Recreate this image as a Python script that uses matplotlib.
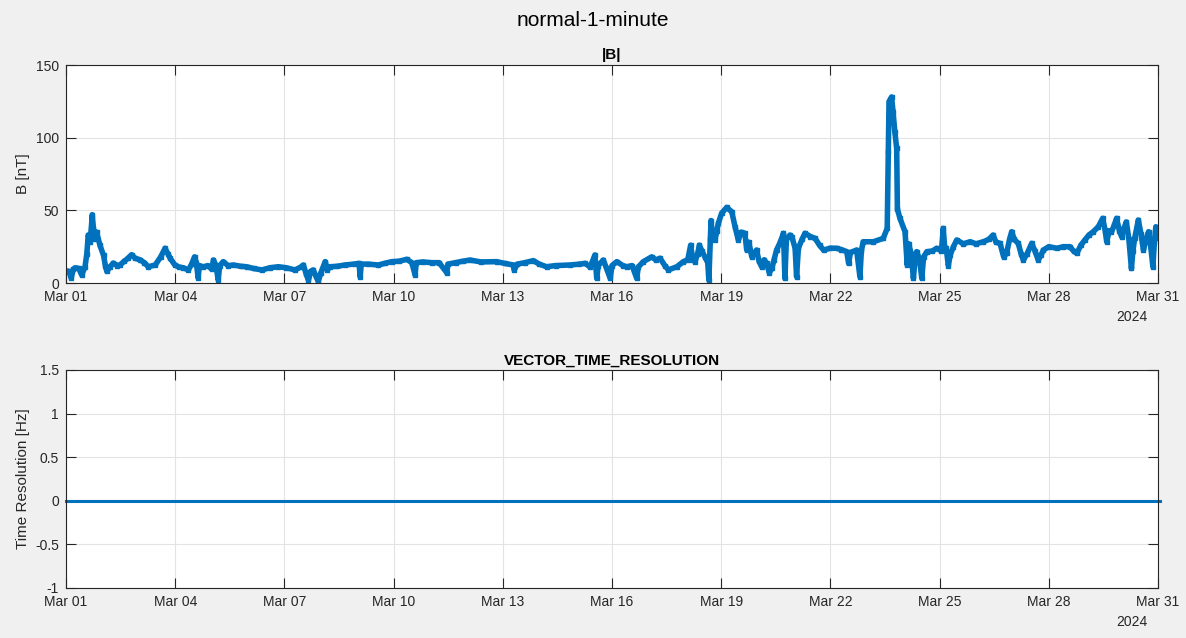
import matplotlib
matplotlib.use("Agg")
import matplotlib.pyplot as plt
import matplotlib.dates as mdates
import pandas as pd
from matplotlib.ticker import FuncFormatter

plt.rcParams["font.family"] = ["Liberation Sans", "DejaVu Sans"]

START = pd.Timestamp("2024-03-01")
END = pd.Timestamp("2024-03-31")

# |B|: days since Mar 01 00:00 -> nT
b_day = [0.00, 0.08, 0.14, 0.20, 0.25, 0.35, 0.43, 0.52, 0.57, 0.61, 0.66, 0.70, 0.72, 0.75,
         0.79, 0.84, 0.93, 1.03, 1.08, 1.12, 1.20, 1.30, 1.40, 1.48, 1.60, 1.70, 1.80, 1.90,
         2.03, 2.15, 2.26, 2.45, 2.60, 2.72, 2.80, 2.86, 2.99, 3.10, 3.22, 3.36, 3.45, 3.53,
         3.58, 3.63, 3.66, 3.77, 3.90, 4.00, 4.05, 4.12, 4.18, 4.22, 4.32, 4.45, 4.60, 4.80,
         4.96, 5.15, 5.38, 5.60, 5.83, 6.05, 6.29, 6.45, 6.52, 6.60, 6.66, 6.72, 6.79, 6.86,
         6.93, 7.00, 7.12, 7.18, 7.25, 7.45, 7.66, 7.90, 8.05, 8.08, 8.11, 8.30, 8.58, 8.75,
         8.95, 9.15, 9.36, 9.50, 9.59, 9.62, 9.80, 10.05, 10.25, 10.46, 10.49, 10.70, 10.90,
         11.10, 11.40, 11.83, 12.05, 12.29, 12.31, 12.40, 12.60, 12.84, 13.00, 13.20, 13.45,
         13.85, 14.10, 14.26, 14.40, 14.53, 14.58, 14.62, 14.76, 14.85, 14.95, 15.00, 15.13,
         15.30, 15.40, 15.55, 15.68, 15.72, 15.86, 16.09, 16.20, 16.32, 16.45, 16.55, 16.78,
         16.96, 17.08, 17.16, 17.22, 17.28, 17.35, 17.40, 17.47, 17.55, 17.63, 17.66, 17.70,
         17.72, 17.77, 17.83, 17.88, 17.92, 18.01, 18.15, 18.29, 18.38, 18.47, 18.55, 18.65,
         18.70, 18.76, 18.84, 18.97, 19.04, 19.11, 19.18, 19.25, 19.32, 19.39, 19.45, 19.52,
         19.62, 19.71, 19.75, 19.79, 19.89, 19.94, 20.03, 20.07, 20.12, 20.22, 20.30, 20.45,
         20.58, 20.70, 20.81, 21.00, 21.17, 21.30, 21.45, 21.50, 21.55, 21.72, 21.81, 21.85,
         21.90, 22.18, 22.45, 22.56, 22.59, 22.61, 22.68, 22.72, 22.77, 22.82, 22.84, 22.91,
         23.05, 23.11, 23.15, 23.22, 23.28, 23.33, 23.37, 23.45, 23.51, 23.56, 23.65, 23.80,
         23.92, 24.05, 24.10, 24.14, 24.18, 24.24, 24.29, 24.38, 24.47, 24.65, 24.84, 25.00,
         25.20, 25.35, 25.47, 25.55, 25.66, 25.76, 25.84, 25.92, 25.98, 26.05, 26.16, 26.24,
         26.30, 26.40, 26.53, 26.62, 26.71, 26.78, 26.85, 27.00, 27.22, 27.40, 27.58, 27.68,
         27.77, 27.88, 27.99, 28.10, 28.22, 28.36, 28.48, 28.55, 28.59, 28.66, 28.72, 28.80,
         28.86, 28.94, 29.00, 29.07, 29.13, 29.20, 29.27, 29.31, 29.36, 29.46, 29.53, 29.60,
         29.67, 29.74, 29.80, 29.86, 29.90, 29.94, 30.03]
b_nt = [8.3, 8.0, 3.4, 9.5, 10.5, 10.0, 5.5, 11.0, 20.0, 33.0, 28.0, 40.0, 47.0, 38.0,
        30.0, 35.0, 26.0, 19.0, 12.0, 8.0, 11.0, 13.7, 12.0, 12.4, 15.0, 17.0, 19.5, 17.0,
        16.0, 14.0, 11.2, 12.4, 18.0, 23.9, 20.0, 17.0, 12.4, 11.0, 10.5, 9.0, 13.0, 18.0,
        14.0, 3.4, 12.0, 11.2, 12.0, 9.5, 15.8, 12.0, 2.0, 12.0, 14.7, 12.0, 12.4, 11.5,
        11.2, 10.0, 9.0, 10.5, 11.2, 10.5, 9.0, 11.0, 12.4, 6.0, 2.0, 8.0, 9.0, 5.0,
        1.0, 7.0, 14.7, 9.0, 11.2, 11.5, 12.4, 13.0, 13.5, 4.3, 13.0, 13.0, 12.4, 13.5,
        14.7, 15.0, 16.3, 14.0, 5.5, 14.0, 14.5, 14.0, 14.0, 7.1, 13.0, 14.0, 15.0,
        15.8, 14.5, 14.7, 13.5, 12.4, 9.0, 13.0, 14.0, 15.4, 13.0, 11.2, 12.0,
        12.4, 13.0, 13.5, 11.0, 19.3, 3.2, 12.0, 15.8, 10.0, 3.2, 12.0, 14.7,
        12.0, 11.2, 12.0, 3.2, 11.0, 14.7, 18.0, 16.0, 17.0, 12.0, 9.0, 11.2,
        14.7, 16.0, 26.0, 16.0, 14.7, 20.0, 26.0, 22.0, 18.0, 14.0, 2.0, 30.0,
        43.0, 30.0, 29.6, 36.0, 41.0, 48.0, 52.0, 49.0, 38.7, 29.6, 35.0, 34.2,
        22.7, 28.0, 18.0, 22.7, 15.0, 11.2, 16.0, 13.5, 7.0, 10.0, 16.0, 22.7,
        28.0, 34.2, 3.2, 30.0, 33.0, 31.9, 23.9, 4.4, 24.0, 30.0, 34.2, 32.0,
        30.7, 26.0, 22.7, 24.0, 23.9, 23.0, 21.6, 13.5, 21.0, 22.7, 4.4, 22.0,
        28.4, 28.4, 30.7, 37.6, 90.0, 124.8, 128.0, 118.0, 104.0, 92.7, 51.0, 44.5,
        35.3, 12.4, 27.0, 20.0, 3.2, 18.0, 21.6, 16.0, 3.2, 18.0, 21.6, 22.0,
        23.9, 22.0, 37.6, 24.0, 24.0, 12.0, 19.3, 25.0, 29.6, 27.0, 28.4, 27.0,
        28.4, 30.0, 33.0, 28.0, 27.3, 18.0, 20.4, 30.0, 35.3, 30.0, 27.3, 20.0,
        15.8, 20.0, 27.3, 22.0, 15.8, 19.0, 22.7, 25.0, 23.9, 25.0, 25.0, 22.0,
        20.4, 26.0, 29.6, 33.0, 35.3, 38.7, 44.5, 36.0, 28.4, 36.0, 35.0, 40.0,
        44.5, 36.0, 31.9, 38.0, 42.0, 30.0, 10.0, 22.0, 31.0, 43.3, 34.0, 22.7,
        30.0, 35.3, 25.0, 11.2, 28.0, 38.7, 30.7]

# vector time resolution: flat zero over the month
res_day = [0.0, 30.05]
res_hz = [0.0, 0.0]

b_ticks = [0, 50, 100, 150]
res_ticks = [-1, -0.5, 0, 0.5, 1, 1.5]

BLUE = "#0072BD"


def to_time(days):
    return START + pd.to_timedelta(days, unit="D")


def style_axes(ax, ylim, yticks, ylabel, title):
    ax.set_xlim(START, END)
    ax.set_ylim(*ylim)
    ax.set_yticks(yticks)
    ax.yaxis.set_major_formatter(FuncFormatter(lambda v, _: f"{v:g}"))
    ax.xaxis.set_major_locator(mdates.DayLocator(bymonthday=range(1, 32, 3)))
    ax.xaxis.set_major_formatter(mdates.DateFormatter("%b %d"))
    ax.grid(True, color="#e3e3e3", lw=0.8)
    ax.set_axisbelow(True)
    ax.tick_params(direction="in", length=7, width=0.8, colors="#262626",
                   labelsize=10, top=True, right=True, pad=5)
    for sp in ax.spines.values():
        sp.set_color("#262626")
        sp.set_linewidth(0.8)
    ax.set_ylabel(ylabel, fontsize=11, color="#262626", labelpad=4)
    ax.set_title(title, fontsize=11, fontweight="bold", pad=4)
    ax.text(0.99, -0.155, "2024", transform=ax.transAxes, ha="right", va="center",
            fontsize=10, color="#262626")


fig = plt.figure(figsize=(11.86, 6.38), dpi=100)
fig.patch.set_facecolor("#f0f0f0")
fig.suptitle("normal-1-minute", fontsize=15, y=0.982)

ax1 = fig.add_axes([0.0557, 0.5564, 0.9207, 0.3417])
ax1.plot(to_time(b_day), b_nt, color=BLUE, lw=4.0, solid_joinstyle="round",
         solid_capstyle="round", marker="s", ms=2.5, clip_on=True)
style_axes(ax1, (0, 150), b_ticks, "B [nT]", "|B|")

ax2 = fig.add_axes([0.0557, 0.0784, 0.9207, 0.3417])
ax2.plot(to_time(res_day), res_hz, color=BLUE, lw=2.2, clip_on=False)
style_axes(ax2, (-1, 1.5), res_ticks, "Time Resolution [Hz]", "VECTOR_TIME_RESOLUTION")

fig.savefig("out.png", facecolor=fig.get_facecolor())
